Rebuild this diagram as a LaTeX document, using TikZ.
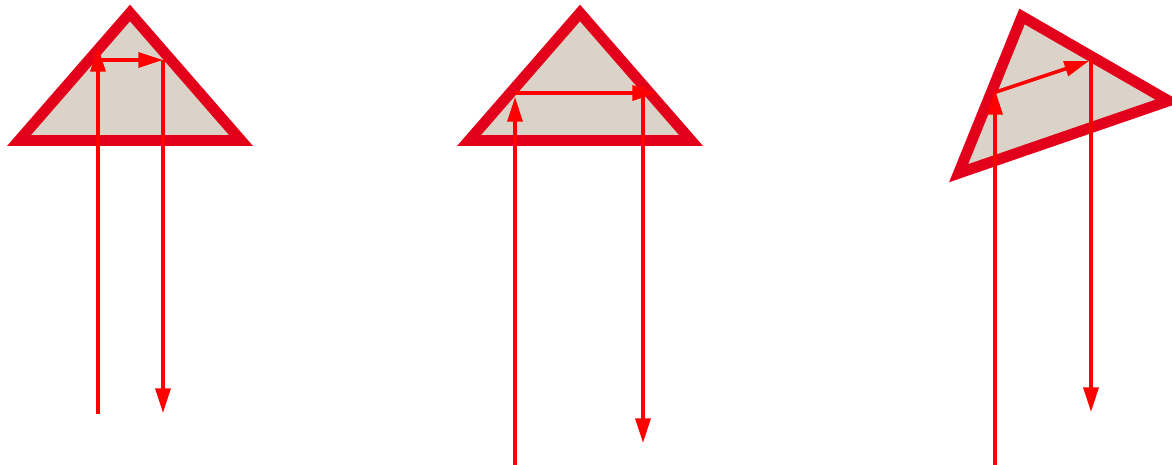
\documentclass[tikz,border=0pt]{standalone}
\usepackage{xcolor}
\usepackage{tikz}
\usetikzlibrary{arrows.meta}
\definecolor{prismred}{HTML}{E2001A}
\definecolor{prismfill}{HTML}{DBD3C7}

\begin{document}
\begin{tikzpicture}[
  x=0.02cm,y=-0.02cm,>={Triangle[length=14pt,width=8.5pt]},
  prism/.style={draw=prismred,fill=prismfill,line width=6.2pt,line join=miter},
  ray/.style={->,draw=red,line width=2pt},
  plain/.style={draw=red,line width=2pt}
]
\useasboundingbox (0,0) rectangle (1172,465);
\clip (0,0) rectangle (1172,465);
% left prism
\draw[prism] (19,140.5) -- (130,13) -- (241,140.5) -- cycle;
\coordinate (a in) at (98,414);
\coordinate (a up) at (98,47);
\coordinate (a left) at (98,60);
\coordinate (a right) at (163,60);
\coordinate (a out) at (163,413);
\draw[ray] (a in) -- (a up);
\draw[ray] (a left) -- (a right);
\draw[ray] (a right) -- (a out);
% middle prism
\draw[prism] (469,140.5) -- (580,13) -- (691,140.5) -- cycle;
\coordinate (b in) at (515,465);
\coordinate (b up) at (515,97);
\coordinate (b left) at (515,93);
\coordinate (b right) at (657,93);
\coordinate (b top) at (643,86);
\coordinate (b out) at (643,443);
\draw[ray] (b in) -- (b up);
\draw[ray] (b left) -- (b right);
\draw[ray] (b top) -- (b out);
% tilted prism
\draw[prism] (958.6,173.2) -- (1022,16.5) -- (1168.5,100.9) -- cycle;
\coordinate (c in) at (995,465);
\coordinate (c up) at (995,90);
\coordinate (c left) at (996,92);
\coordinate (c right) at (1089,61);
\coordinate (c top) at (1091,60);
\coordinate (c out) at (1091,412);
\draw[ray] (c in) -- (c up);
\draw[ray] (c left) -- (c right);
\draw[ray] (c top) -- (c out);
\end{tikzpicture}
\end{document}
